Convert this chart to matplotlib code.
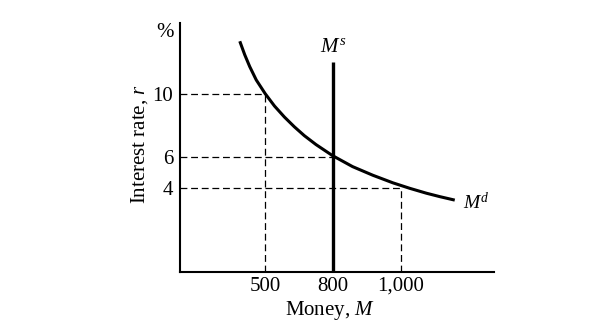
import numpy as np
import matplotlib
matplotlib.use('Agg')
import matplotlib.pyplot as plt

plt.rcParams['font.family'] = 'Liberation Serif'
plt.rcParams['mathtext.fontset'] = 'custom'
plt.rcParams['mathtext.rm'] = 'Liberation Serif'
plt.rcParams['mathtext.it'] = 'Liberation Serif:italic'

# Demanda de moeda
money_d = [387, 409, 431, 460, 500, 541, 585, 629, 673, 725, 798,
           858, 918, 977, 1027, 1076, 1116, 1160]
rate_d = [13.34, 12.48, 11.73, 10.88, 10.0, 9.22, 8.52, 7.90, 7.34, 6.77,
          6.07, 5.37, 4.82, 4.34, 3.99, 3.68, 3.46, 3.24]

# Oferta de moeda
money_s = 800
rate_s_top = 12

# Pontos de referência
ref_money = [500, 800, 1000]
ref_rate = [10, 6, 4]
x_tick_labels = ['500', '800', '1,000']
y_ticks = [4, 6, 10]

xmin, xmax = 122, 1276
ymin, ymax = -1.33, 14.5


# Escala do eixo x: marcas igualmente espaçadas
def fwd(m):
    m = np.asarray(m, dtype=float)
    return np.where(m < 800, (m - 500) / 300, 1 + (m - 800) / 200)


def inv(p):
    p = np.asarray(p, dtype=float)
    return np.where(p < 1, 500 + 300 * p, 800 + 200 * (p - 1))


fig = plt.figure(figsize=(6.15, 3.23), dpi=100)
ax = fig.add_axes([180 / 615, 51 / 323, 314 / 615, 249 / 323])
ax.set_xscale('function', functions=(fwd, inv))
ax.set_xlim(xmin, xmax)
ax.set_ylim(ymin, ymax)

# Linhas tracejadas
dash = (0, (5.5, 3))
for m, r in zip(ref_money, ref_rate):
    ax.plot([xmin, m], [r, r], color='black', lw=0.9, ls=dash)
    if m != money_s:
        ax.plot([m, m], [ymin, r], color='black', lw=0.9, ls=dash)

ax.plot(money_d, rate_d, color='black', lw=2.2, solid_capstyle='butt',
        solid_joinstyle='round')
ax.plot([money_s, money_s], [ymin, rate_s_top], color='black', lw=2.4,
        solid_capstyle='butt')

ax.text(800, 12.95, '$M^s$', fontsize=15, ha='center', va='center')
ax.text(1184, 3.1, '$M^d$', fontsize=14, ha='left', va='center')
ax.text(-0.048, 0.962, '%', fontsize=15, ha='center', va='center',
        transform=ax.transAxes)

ax.spines['top'].set_visible(False)
ax.spines['right'].set_visible(False)
ax.spines['left'].set_linewidth(1.5)
ax.spines['bottom'].set_linewidth(1.5)

ax.set_xticks(ref_money)
ax.set_xticklabels(x_tick_labels)
ax.set_yticks(y_ticks)
ax.set_yticklabels([str(v) for v in y_ticks])
ax.xaxis.set_minor_locator(matplotlib.ticker.NullLocator())
ax.tick_params(axis='both', which='both', length=0, labelsize=15)
ax.tick_params(axis='x', pad=3.5)
ax.tick_params(axis='y', pad=5)

ax.set_xlabel('Money, $M$', fontsize=15)
ax.set_ylabel('Interest rate, $r$', fontsize=15)
ax.xaxis.set_label_coords(0.478, -0.11)
ax.yaxis.set_label_coords(-0.095, 0.514)

plt.savefig('out.png', dpi=100)
